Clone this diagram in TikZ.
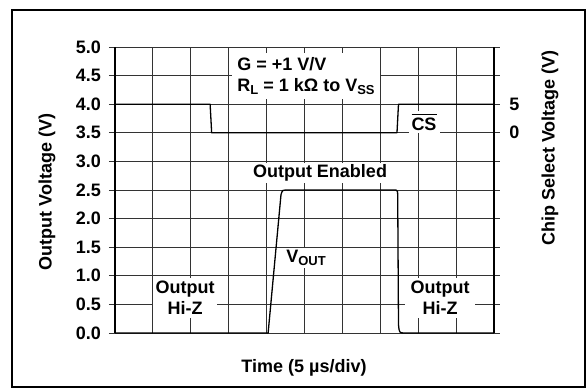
\documentclass[tikz,border=0pt]{standalone}
\usepackage{fontspec}
\setmainfont{Liberation Sans}
\usetikzlibrary{positioning,calc}
\newcommand{\lowsub}[1]{\raisebox{-0.3ex}{\fontsize{13}{13}\selectfont #1}}
\newcommand{\barred}[1]{\vbox{\hrule height 1.2pt \kern 2.5pt \hbox{#1}}}

\begin{document}
\begin{tikzpicture}
[x=1pt,y=1pt,
txt/.style={font=\fontsize{18}{21}\selectfont\bfseries},
lbl/.style={txt,fill=white,inner sep=4pt},
grid/.style={black!80,line width=0.9pt},
border/.style={black,line width=1.4pt},
trace/.style={black,line width=1.3pt,line join=round}]
%%
\useasboundingbox (0,0) rectangle (586,388);
\draw[line width=2pt] (12,1) rectangle (585,378);
%%
%%%%%%%%%%%%%%%%%%
% Plot area
%%%%%%%%%%%%%%%%%%
\begin{scope}[shift={(115,55)},x=37.9pt,y=57.2pt]
\foreach \i in {1,...,9}
  \draw[grid] (\i,0) -- (\i,5);
\foreach \v in {0,0.5,1,1.5,2,2.5,3,3.5,4,4.5,5}
  \draw[grid] (-0.16,\v) -- (10.16,\v);
\draw[border] (0,0) -- (0,5);
\draw[border] (10,0) -- (10,5);
%% tick labels
\foreach \v [count=\k] in {0.0,0.5,1.0,1.5,2.0,2.5,3.0,3.5,4.0,4.5,5.0}
  \node[txt,anchor=east,inner sep=0pt] (t\k) at (-0.37,\v) {\v};
\node[txt,anchor=west,inner sep=0pt] (cs5) at (10.4,4) {5};
\node[txt,anchor=west,inner sep=0pt] (cs0) at (10.4,3.5) {0};
\end{scope}
%%
%%%%%%%%%%%%%%%%%%
% Labels in the plot
%%%%%%%%%%%%%%%%%%
\node[lbl,align=left,inner xsep=5pt] (gbox) at (306,312)
  {G = +1 V/V\\R\lowsub{L} = 1 kΩ to V\lowsub{SS}};
\node[lbl,inner sep=3pt] (csl) at (424,266) {\barred{CS}};
\node[lbl,inner sep=2pt] (enl) at (320,215) {Output Enabled};
\node[lbl,inner sep=2pt] (voutl) at (306,130) {V\lowsub{OUT}};
\node[lbl,align=center,inner sep=3pt] (hizl) at (185,90) {Output\\Hi-Z};
\node[lbl,align=center,inner sep=3pt,inner xsep=6pt] (hizr) at (440,90) {Output\\Hi-Z};
%%
%%%%%%%%%%%%%%%%%%
% Traces
%%%%%%%%%%%%%%%%%%
\begin{scope}[shift={(115,55)},x=37.9pt,y=57.2pt]
%% chip select
\draw[trace] (0,4) -- (2.51,4) -- (2.55,3.5) -- (7.44,3.5) -- (7.48,4) -- (10,4);
%% output
\draw[trace] (0,0) -- (4.04,0) -- (4.38,2.42) .. controls (4.42,2.5) .. (4.5,2.5)
  -- (7.41,2.5) .. controls (7.46,2.5) .. (7.46,2.3) -- (7.48,0.15)
  .. controls (7.5,0) .. (7.65,0) -- (10,0);
\end{scope}
%%
%%%%%%%%%%%%%%%%%%
% Axis titles
%%%%%%%%%%%%%%%%%%
\node[txt] (xlab) at (304,20) {Time (5 µs/div)};
\node[txt,rotate=90] (ylab) at (47,196) {Output Voltage (V)};
\node[txt,rotate=90] (y2lab) at (550,240) {Chip Select Voltage (V)};
\end{tikzpicture}
\end{document}
